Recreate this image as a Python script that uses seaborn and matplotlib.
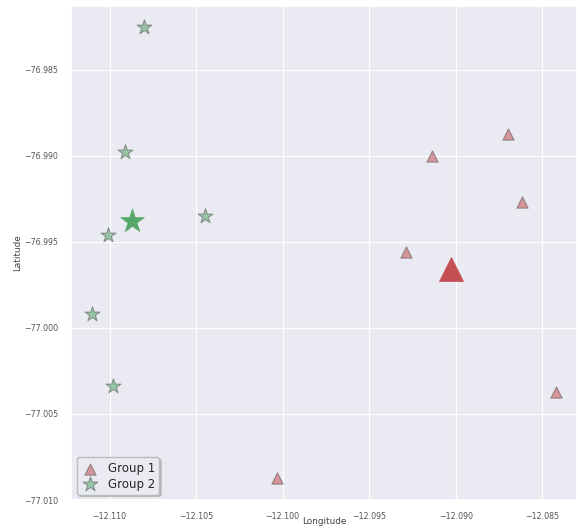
import matplotlib
matplotlib.use("Agg")
import matplotlib.pyplot as plt
import seaborn as sns
import pandas as pd

# Group 1 sites (triangles)
g1_lon = [-12.0870, -12.0914, -12.0862, -12.0929, -12.0842, -12.1003]
g1_lat = [-76.9887, -76.9900, -76.9927, -76.9956, -77.0037, -77.0087]

# Group 2 sites (stars)
g2_lon = [-12.1080, -12.1091, -12.1045, -12.1101, -12.1110, -12.1098]
g2_lat = [-76.9825, -76.9898, -76.9935, -76.9946, -76.9992, -77.0034]

# Group centres
c1_lon, c1_lat = [-12.0903], [-76.9966]
c2_lon, c2_lat = [-12.1087], [-76.9938]

sns.set_theme(style="darkgrid", rc={"grid.linewidth": 0.8})
red = sns.color_palette("deep")[3]
green = sns.color_palette("deep")[2]

df1 = pd.DataFrame({"Longitude": g1_lon, "Latitude": g1_lat})
df2 = pd.DataFrame({"Longitude": g2_lon, "Latitude": g2_lat})
dc1 = pd.DataFrame({"Longitude": c1_lon, "Latitude": c1_lat})
dc2 = pd.DataFrame({"Longitude": c2_lon, "Latitude": c2_lat})

fig = plt.figure(figsize=(5.78, 5.29), dpi=100)
ax = fig.add_axes([0.1237, 0.0548, 0.8745, 0.934])

sns.scatterplot(data=df1, x="Longitude", y="Latitude", ax=ax, marker="^",
                s=66, color=red, alpha=0.55, edgecolor="#555555", linewidth=0.8,
                label="Group 1")
sns.scatterplot(data=df2, x="Longitude", y="Latitude", ax=ax, marker="*",
                s=125, color=green, alpha=0.55, edgecolor="#555555", linewidth=0.8,
                label="Group 2")
sns.scatterplot(data=dc1, x="Longitude", y="Latitude", ax=ax, marker="^",
                s=300, color=red, edgecolor=red, linewidth=0.5, legend=False)
sns.scatterplot(data=dc2, x="Longitude", y="Latitude", ax=ax, marker="*",
                s=320, color=green, edgecolor=green, linewidth=0.5, legend=False)

ax.set_xlim(-12.1122, -12.0830)
ax.set_ylim(-77.0100, -76.98128)
ax.set_xticks([-12.110, -12.105, -12.100, -12.095, -12.090, -12.085])
ax.set_yticks([-76.985, -76.990, -76.995, -77.000, -77.005, -77.010])
ax.set_xticklabels(["\u221212.110", "\u221212.105", "\u221212.100",
                    "\u221212.095", "\u221212.090", "\u221212.085"])
ax.set_yticklabels(["\u221276.985", "\u221276.990", "\u221276.995",
                    "\u221277.000", "\u221277.005", "\u221277.010"])
ax.tick_params(axis="x", labelsize=5.7, colors="#555555", pad=2.5)
ax.tick_params(axis="y", labelsize=5.7, colors="#555555", pad=3.5)
ax.set_xlabel("Longitude", fontsize=6.4, color="#444444")
ax.set_ylabel("Latitude", fontsize=6.4, color="#444444")
ax.xaxis.set_label_coords(0.5, -0.035)
ax.yaxis.set_label_coords(-0.097, 0.5)

leg = ax.legend(loc="lower left", fontsize=8.5, frameon=True,
                shadow={"ox": 1.2, "oy": -1.2, "color": "#999999", "alpha": 0.5},
                fancybox=True, borderpad=0.35, handletextpad=0.7,
                handlelength=1.6, labelspacing=0.25, borderaxespad=0.45)
leg.get_frame().set_edgecolor("#bbbbbb")
leg.get_frame().set_facecolor("#eaeaf2")

fig.savefig("out.png", dpi=100)
